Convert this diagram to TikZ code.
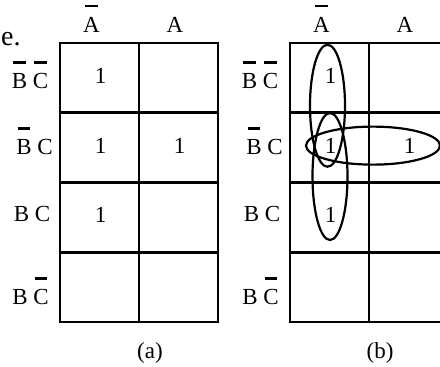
\documentclass[tikz,border=0pt]{standalone}
\usepackage{fontspec}
\setmainfont{Liberation Serif}
\usetikzlibrary{positioning,calc}
\newcommand{\nbar}[1]{\ooalign{#1\cr\hidewidth\rule[1.07em]{0.53em}{0.12em}\hidewidth\cr}}

\begin{document}
\begin{tikzpicture}[
  x=1pt, y=-1pt,
  font=\fontsize{23}{27}\selectfont,
  cell/.style={
    draw, line width=2.7pt, minimum width=79pt, minimum height=69.75pt,
    inner sep=0pt, outer sep=0pt
  },
  one/.style={inner sep=0pt},
  lbl/.style={inner sep=0pt, anchor=base},
  ring/.style={draw, line width=2.2pt}
]
\useasboundingbox (0,0) rectangle (440,367);
\clip (0,0) rectangle (440,367);

% tail of the text above
\node[lbl, anchor=base west, font=\fontsize{28}{32}\selectfont] (etxt) at (1,45) {e.};

% the two maps
\foreach \g/\gx in {a/60,b/290} {
  \foreach \r in {1,...,4}
    \foreach \c in {1,2}
      \node[cell] (\g\r\c) at ({\gx+79*\c-39.5},{43+69.75*\r-34.875}) {};
  \node[lbl] (h\g1) at ($(\g11.north)+(-8,-11)$) {\nbar{A}};
  \node[lbl] (h\g2) at ($(\g12.north)+(-3.5,-11)$) {A};
  \node[lbl] (r\g1) at ($(\g11.west)+(-30,10.5)$) {\nbar{B} \nbar{C}};
  \node[lbl] (r\g2) at ($(\g21.west)+(-25.5,7)$) {\nbar{B} C};
  \node[lbl] (r\g3) at ($(\g31.west)+(-28,4)$) {B C};
  \node[lbl] (r\g4) at ($(\g41.west)+(-29.5,17)$) {B \nbar{C}};
  \node[lbl] (cap\g) at ($(\g41.south east)+(11,36)$) {(\g)};
}

% minterms
\foreach \n in {a11,a21,a22,a31,b11,b21,b22,b31}
  \node[one] (o\n) at ($(\n)+(1,-2)$) {1};

% groupings in (b)
\draw[ring] ($(b11)!0.5!(b21)+(-2,-7)$) ellipse [x radius=17.5pt, y radius=61pt];
\draw[ring] ($(b21)!0.5!(b31)+(0.5,-6)$) ellipse [x radius=17.5pt, y radius=63.5pt];
\draw[ring] ($(b21)!0.5!(b22)+(4,-2)$) ellipse [x radius=67pt, y radius=19pt];
\end{tikzpicture}
\end{document}
